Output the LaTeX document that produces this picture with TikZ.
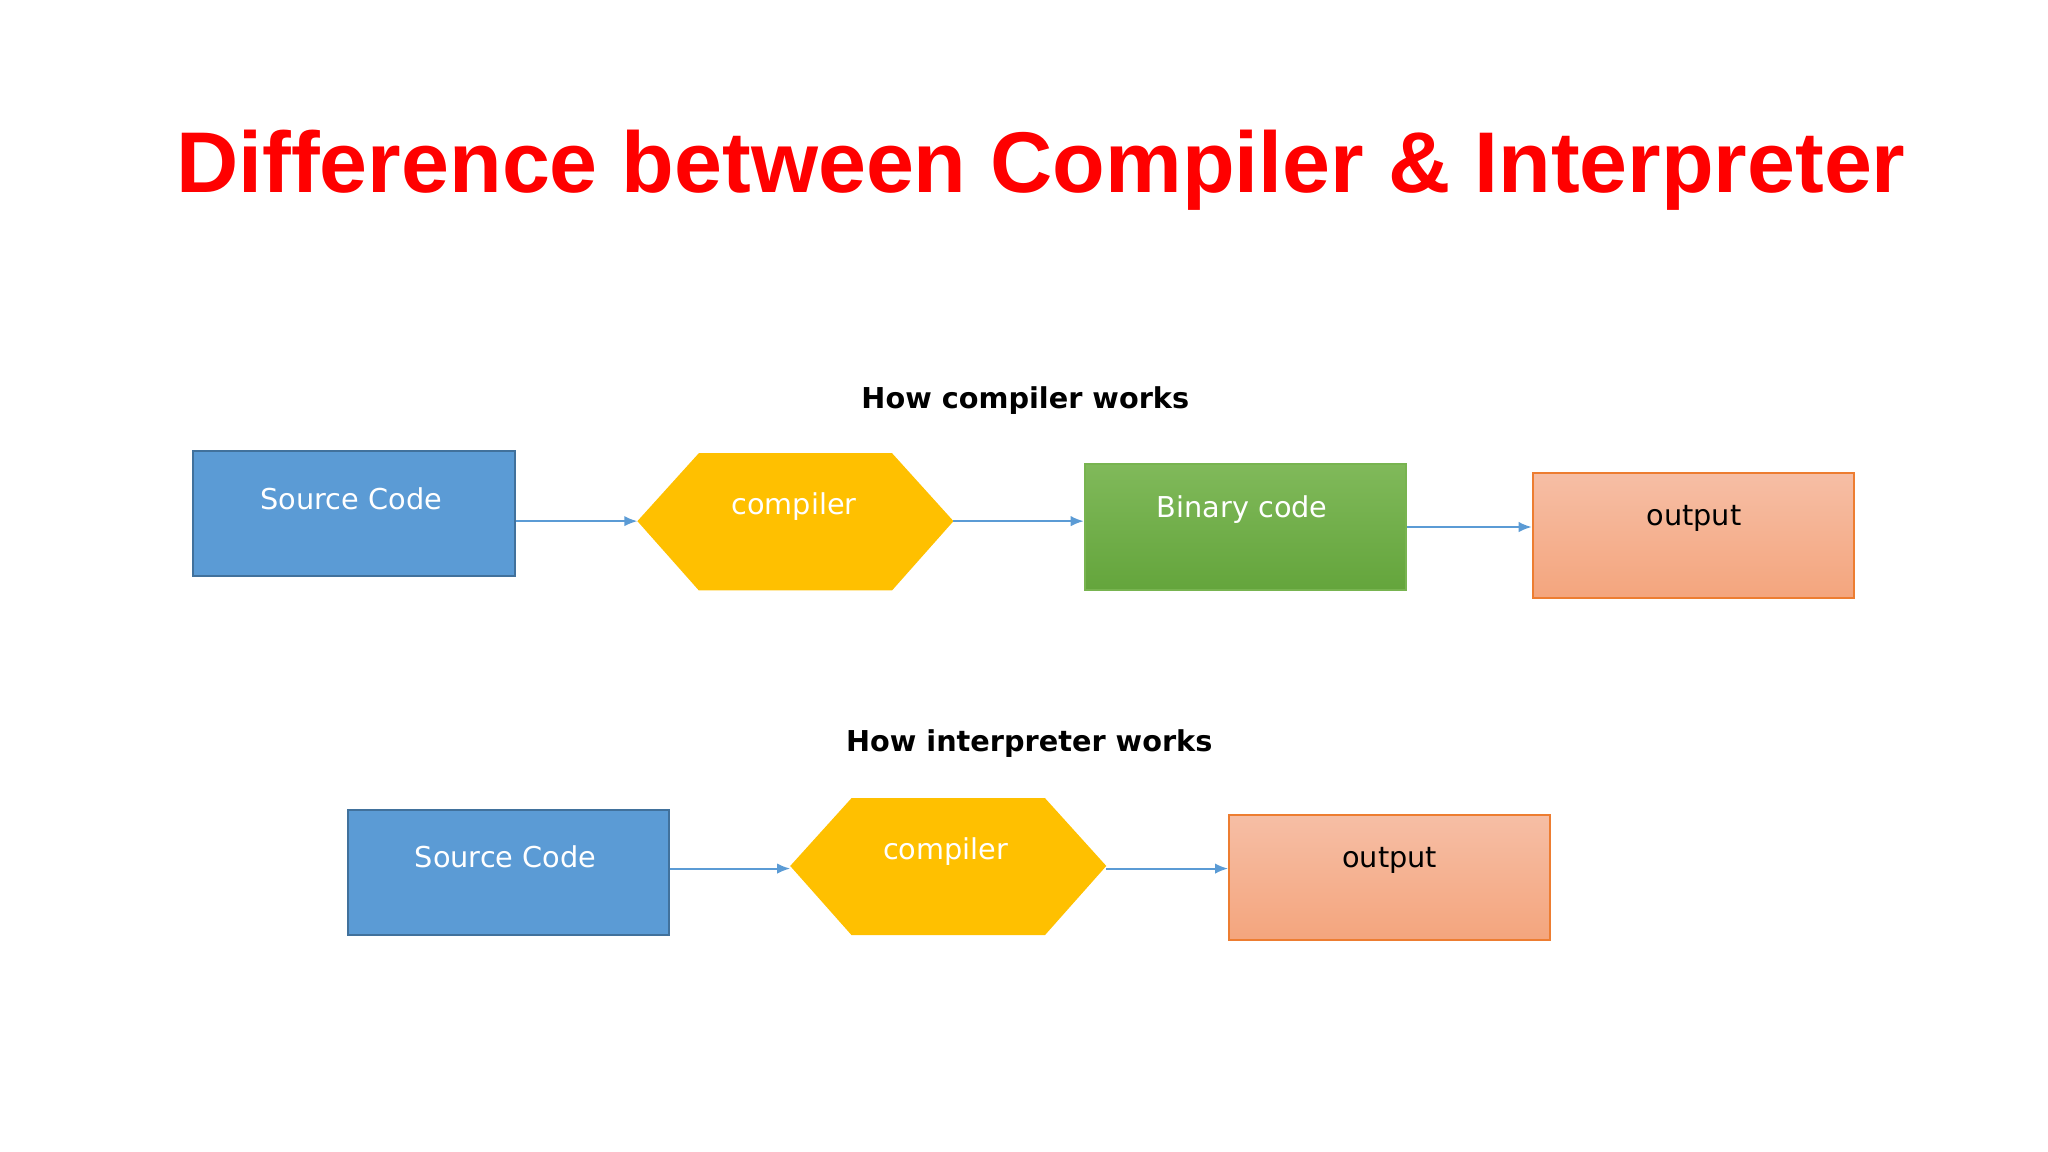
\documentclass[tikz,border=0pt]{standalone}
\usepackage{fontspec}
\usetikzlibrary{arrows.meta}
\setmainfont{DejaVu Sans}
\newfontfamily\titlefont{Liberation Sans}
\begin{document}
\begin{tikzpicture}[x=1pt,y=-1pt,
 box/.style={draw,line width=1.5pt,inner sep=0,minimum width=246pt,minimum height=96pt},
 blue/.style={box,fill={rgb,255:red,91;green,155;blue,213},draw={rgb,255:red,65;green,113;blue,156}},
 green/.style={box,top color={rgb,255:red,128;green,185;blue,90},bottom color={rgb,255:red,100;green,165;blue,60},draw={rgb,255:red,120;green,180;blue,80}},
 peach/.style={box,top color={rgb,255:red,246;green,190;blue,165},bottom color={rgb,255:red,244;green,165;blue,125},draw={rgb,255:red,237;green,125;blue,49}},
 hex/.style={fill={rgb,255:red,255;green,192;blue,0}},
 wtxt/.style={text=white,font=\fontsize{22}{26}\selectfont},
 btxt/.style={text=black,font=\fontsize{22}{26}\selectfont},
 head/.style={font=\bfseries\fontsize{22}{26}\selectfont},
 arr/.style={draw={rgb,255:red,91;green,155;blue,213},line width=1.5pt,-{Latex[length=10pt,width=8pt]}}]
\useasboundingbox (0,0) rectangle (1568,882);
\node[font=\titlefont\bfseries\fontsize{66}{70}\selectfont,text=red] (title) at (797,130) {Difference between Compiler \& Interpreter};
\node[head] (h1) at (785,307) {How compiler works};
\node[head] (h2) at (788,569) {How interpreter works};
% row 1
\node[blue] (s1) at (271,393) {};
\node[wtxt] (s1t) at (269,382) {Source Code};
\fill[hex] (535,347)--(683,347)--(730,399)--(683,452)--(535,452)--(488,399)--cycle;
\coordinate (c1l) at (488,399); \coordinate (c1r) at (730,399);
\node[wtxt] (c1t) at (608,388) {compiler};
\node[green] (b1) at (953.5,403.5) {};
\node[wtxt] (b1t) at (951,390) {Binary code};
\node[peach] (o1) at (1296.5,410) {};
\node[btxt] (o1t) at (1297,397) {output};
\draw[arr] (s1.east |- c1l) -- (c1l);
\draw[arr] (c1r) -- (b1.west |- c1r);
\draw[arr] (b1.east) -- (o1.west |- b1.east);
% row 2
\node[blue] (s2) at (389.5,668) {};
\node[wtxt] (s2t) at (387,656) {Source Code};
\fill[hex] (652,611)--(800,611)--(847,663)--(800,716)--(652,716)--(605,663)--cycle;
\coordinate (c2l) at (605,665); \coordinate (c2r) at (847,665);
\node[wtxt] (c2t) at (724,652) {compiler};
\node[peach] (o2) at (1064,672) {};
\node[btxt] (o2t) at (1064,659) {output};
\draw[arr] (s2.east |- c2l) -- (c2l);
\draw[arr] (c2r) -- (o2.west |- c2r);
\end{tikzpicture}
\end{document}
